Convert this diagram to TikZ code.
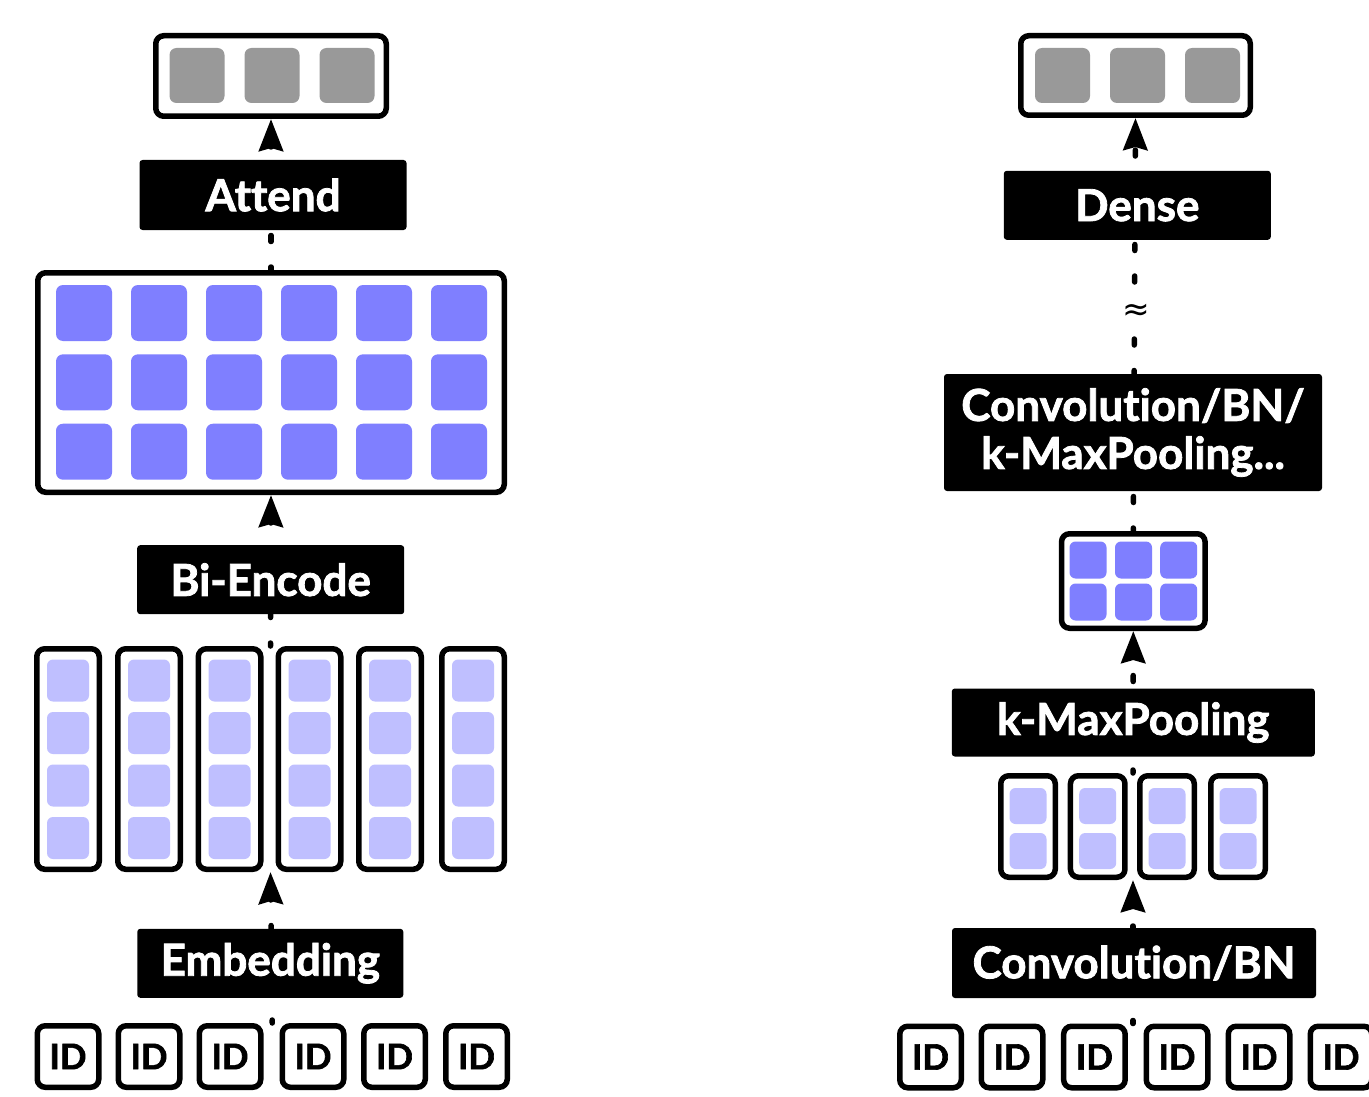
\documentclass[tikz,border=0pt]{standalone}
\usepackage{fontspec}
\setmainfont{Lato}[Ligatures=NoCommon, BoldFeatures={FakeBold=1.8}]
\newfontfamily\symfont{DejaVu Sans}
\usetikzlibrary{arrows.meta,fit}
\pgfdeclarelayer{background}
\pgfsetlayers{background,main}
\definecolor{graysq}{HTML}{999999}
\definecolor{bluesq}{HTML}{7F7FFF}
\definecolor{lightsq}{HTML}{BFBFFF}
\begin{document}
\begin{tikzpicture}[x=1pt,y=-1pt,
  frame/.style={draw=black, line width=5.5pt, rounded corners=8pt, fill=white, inner sep=0pt},
  blk/.style={fill=black, rounded corners=3pt, text=white, inner sep=0pt, align=center,
              font=\fontsize{44}{48}\selectfont\bfseries},
  idbox/.style={frame, minimum width=61.5pt, minimum height=61.5pt,
                font=\fontsize{35}{35}\selectfont\bfseries},
  gsq/.style={fill=graysq, rounded corners=7pt, inner sep=0pt, minimum size=55pt},
  bsq/.style={fill=bluesq, rounded corners=7pt, inner sep=0pt, minimum size=56pt},
  lsq/.style={fill=lightsq, rounded corners=6pt, inner sep=0pt, minimum size=42pt},
  ssq/.style={fill=bluesq, rounded corners=6pt, inner sep=0pt, minimum size=37pt},
  rsq/.style={fill=lightsq, rounded corners=6pt, inner sep=0pt, minimum width=37pt, minimum height=36pt},
  grp/.style={inner sep=0pt, outer sep=0pt},
  conn/.style={line width=5.5pt, line cap=round, dash pattern=on 6pt off 25.5pt, dash phase=3pt,
               -{Stealth[length=32pt,width=24pt,inset=3pt]}}
]
\useasboundingbox (0,0) rectangle (1369,1097);
\clip (0,0) rectangle (1369,1097);

% ---------------- left ----------------
\node[frame, minimum width=230.5pt, minimum height=80.5pt] (outL) at (271,76) {};
\foreach \x [count=\i] in {197,272,347} \node[gsq] (gL\i) at (\x,75.5) {};
\node[blk, minimum width=267pt, minimum height=70pt] (attL) at (273,195) {Attend};

\node[frame, minimum width=466.5pt, minimum height=219.5pt] (bigL) at (271,382.5) {};
\foreach \x [count=\i] in {84,159,234,309,384,459}
  \foreach \y [count=\j] in {313,382.3,451.7}
    \node[bsq] (bL\i-\j) at (\x,\y) {};

\node[blk, minimum width=267pt, minimum height=69pt] (biL) at (270.7,579.7) {Bi-Encode};

\foreach \x [count=\i] in {68,149,229.5,309.5,390,473} {
  \node[frame, minimum width=62.5pt, minimum height=220.5pt] (cL\i) at (\x,759) {};
  \foreach \y [count=\j] in {680.5,733,785.5,838}
    \node[lsq] (lL\i-\j) at (\x,\y) {};
}
\node[grp, fit=(cL1)(cL6)] (colsL) {};

\node[blk, minimum width=266pt, minimum height=69pt] (embL) at (270.3,963.3) {Embedding};

\foreach \x [count=\i] in {68,149,230,313,394.5,476.5}
  \node[idbox] (idL\i) at (\x,1056.5) {ID};
\node[grp, fit=(idL1)(idL6)] (idsL) {};

% ---------------- right ----------------
\node[frame, minimum width=229.5pt, minimum height=79.5pt] (outR) at (1135.5,75.5) {};
\foreach \x [count=\i] in {1062.5,1137.5,1212.5} \node[gsq] (gR\i) at (\x,75.5) {};
\node[blk, minimum width=267pt, minimum height=69pt] (denR) at (1137.3,205.3) {Dense};

\node[blk, minimum width=378pt, minimum height=117pt] (convR) at (1133,432.5)
  {Convolution/BN/\\k-MaxPooling...};

\node[frame, minimum width=143.5pt, minimum height=94.5pt] (smallR) at (1133.3,581) {};
\foreach \x [count=\i] in {1088,1133.5,1178.7}
  \foreach \y [count=\j] in {560,602}
    \node[ssq] (sR\i-\j) at (\x,\y) {};

\node[blk, minimum width=363pt, minimum height=68pt] (kmaxR) at (1133.3,722.5) {k-MaxPooling};

\foreach \x [count=\i] in {1028,1097.7,1167,1238} {
  \node[frame, minimum width=54.5pt, minimum height=101.5pt] (cR\i) at (\x,826.5) {};
  \foreach \y [count=\j] in {806,851}
    \node[rsq] (lR\i-\j) at (\x,\y) {};
}
\node[grp, fit=(cR1)(cR4)] (colsR) {};

\node[blk, minimum width=364pt, minimum height=70pt] (cbnR) at (1134,963) {Convolution/BN};

\foreach \x [count=\i] in {930.5,1012,1094.4,1177,1259,1341}
  \node[idbox] (idR\i) at (\x,1057) {ID};
\node[grp, fit=(idR1)(idR6)] (idsR) {};

\node[fill=white, inner sep=1pt, font=\symfont\fontsize{33}{33}\selectfont] (approx) at (1136,312) {≈};

% ---------------- connectors ----------------
\begin{pgfonlayer}{background}
\draw[conn] (idsL.north) -- (colsL.south);
\draw[conn] (colsL.north) -- (bigL.south);
\draw[conn] (bigL.north) -- (outL.south);
\draw[conn] (colsR.south |- idsR.north) -- (colsR.south);
\draw[conn] (colsR.north) -- (smallR.south);
\draw[conn] (smallR.north) -- (outR.south);
\end{pgfonlayer}
\end{tikzpicture}
\end{document}
